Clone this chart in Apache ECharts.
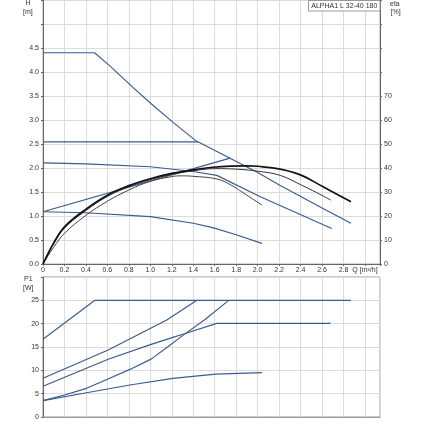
<!DOCTYPE html>
<html><head><meta charset="utf-8">
<script src="https://cdn.jsdelivr.net/npm/echarts@6/dist/echarts.min.js"></script>
<style>html,body{margin:0;padding:0;background:#fff}#c{width:423px;height:423px}</style>
</head><body><div id="c"></div>
<script>
// ---- tick labels ----
const qTickLabels = ['0','0.2','0.4','0.6','0.8','1.0','1.2','1.4','1.6','1.8','2.0','2.2','2.4','2.6','2.8','Q [m\u00b3/h]'];
const hTickLabels = ['0.0','0.5','1.0','1.5','2.0','2.5','3.0','3.5','4.0','4.5'];
const etaTickLabels = ['0','10','20','30','40','50','60','70'];
const pTickLabels = ['0','5','10','15','20','25'];

// ---- head curves H [m] ----
const hMaxQ = [0, 0.48, 0.62, 0.84, 1.0, 1.215, 1.42, 1.575, 2.0, 2.21, 2.41, 2.6, 2.87];
const hMaxH = [4.41, 4.41, 4.14, 3.68, 3.36, 2.95, 2.58, 2.40, 1.91, 1.64, 1.40, 1.17, 0.85];
const hCpQ = [0, 1.445];
const hCpH = [2.55, 2.55];
const hMidQ = [0, 0.4, 1.0, 1.4, 1.62, 2.02, 2.69];
const hMidH = [2.11, 2.09, 2.03, 1.93, 1.85, 1.41, 0.74];
const hPpQ = [0, 1.743];
const hPpH = [1.09, 2.21];
const hLowQ = [0, 0.4, 1.0, 1.4, 1.58, 1.8, 2.04];
const hLowH = [1.09, 1.07, 0.99, 0.85, 0.76, 0.61, 0.43];

// ---- efficiency curves eta [%] ----
const eta1Q = [0, 0.1, 0.2, 0.4, 0.6, 0.8, 1.0, 1.2, 1.4, 1.58, 1.9, 2.0, 2.21, 2.41, 2.61, 2.87];
const eta1V = [0, 8.8, 15.5, 22.9, 28.75, 32.7, 35.6, 37.8, 39.3, 40.4, 41.0, 40.8, 39.6, 37.0, 32.2, 26.0];
const eta2Q = [0, 0.1, 0.2, 0.4, 0.6, 0.8, 1.0, 1.2, 1.4, 1.6, 1.8, 2.0, 2.21, 2.41, 2.55, 2.68];
const eta2V = [0, 8.5, 15.0, 22.3, 28.2, 32.2, 35.2, 37.4, 38.9, 39.8, 39.6, 38.75, 37.0, 32.9, 29.8, 26.7];
const eta3Q = [0, 0.1, 0.2, 0.4, 0.6, 0.8, 1.0, 1.2, 1.3, 1.4, 1.62, 1.75, 1.89, 2.04];
const eta3V = [0, 7.0, 12.8, 20.3, 26.2, 30.9, 34.5, 36.5, 36.8, 36.6, 35.5, 33.0, 29.0, 24.6];

// ---- power curves P1 [W] ----
const pMaxQ = [0, 0.483, 2.87];
const pMaxP = [16.65, 25, 25];
const pCpQ = [0, 0.607, 1.153, 1.434];
const pCpP = [8.3, 14.36, 20.8, 25];
const pMidQ = [0, 0.607, 1.0, 1.21, 1.31, 1.62, 2.68];
const pMidP = [6.6, 12.36, 15.5, 17.07, 17.8, 20.07, 20.07];
const pPpQ = [0, 0.2, 0.405, 0.6, 0.81, 1.007, 1.16, 1.31, 1.51, 1.73];
const pPpP = [3.5, 4.7, 6.14, 8.1, 10.2, 12.4, 15.0, 17.6, 20.9, 25];
const pLowQ = [0, 0.405, 0.81, 1.21, 1.61, 2.04];
const pLowP = [3.5, 5.2, 6.86, 8.29, 9.2, 9.5];

const zip = (a, b) => a.map((x, i) => [x, b[i]]);
const BLUE = '#3a5b8e';
const TXT = '#333';
const FONT = 'Liberation Sans';
const GRIDC = '#dcdcdc';
const AXC = '#666';
const FS = 7;

function blue(name, q, v, xi, yi) {
  return { name, type: 'line', xAxisIndex: xi, yAxisIndex: yi, data: zip(q, v), symbol: 'none',
    lineStyle: { color: BLUE, width: 1.15 }, silent: true, animation: false, z: 3 };
}
function eta(name, q, v, w, c) {
  return { name, type: 'line', xAxisIndex: 0, yAxisIndex: 1, data: zip(q, v), symbol: 'none',
    smooth: 0.4, lineStyle: { color: c, width: w }, silent: true, animation: false, z: 4 };
}

const chart = echarts.init(document.getElementById('c'), null, { renderer: 'canvas' });
const lbl = (arr, step) => (v) => { const i = Math.round(v / step); return (Math.abs(v - i * step) < 1e-6 && arr[i] !== undefined) ? arr[i] : ''; };

chart.setOption({
  animation: false,
  backgroundColor: '#fff',
  textStyle: { fontFamily: FONT },
  grid: [
    { left: 43, top: 0.5, width: 337, height: 263.5, show: true, borderColor: '#aaa', borderWidth: 1 },
    { left: 43, top: 277, width: 337, height: 140, show: true, borderColor: '#999', borderWidth: 1 }
  ],
  xAxis: [
    { gridIndex: 0, type: 'value', min: 0, max: 3.14, interval: 0.2,
      axisLine: { show: true, lineStyle: { color: AXC } }, axisTick: { show: true, length: 2, lineStyle: { color: AXC } },
      axisLabel: { fontSize: FS, color: TXT, margin: 3, fontFamily: FONT, formatter: lbl(qTickLabels, 0.2) },
      splitLine: { show: true, lineStyle: { color: GRIDC, width: 1 } } },
    { gridIndex: 1, type: 'value', min: 0, max: 3.14, interval: 0.2,
      axisLine: { show: true, lineStyle: { color: '#999' } }, axisTick: { show: false }, axisLabel: { show: false },
      splitLine: { show: true, lineStyle: { color: GRIDC, width: 1 } } }
  ],
  yAxis: [
    { gridIndex: 0, type: 'value', min: 0, max: 5.5, interval: 0.5, position: 'left',
      axisLine: { show: true, lineStyle: { color: AXC } }, axisTick: { show: true, length: 2, lineStyle: { color: AXC } },
      axisLabel: { fontSize: FS, color: TXT, margin: 4, fontFamily: FONT, formatter: lbl(hTickLabels, 0.5) },
      splitLine: { show: true, lineStyle: { color: GRIDC, width: 1 } } },
    { gridIndex: 0, type: 'value', min: 0, max: 110, interval: 10, position: 'right',
      axisLine: { show: true, lineStyle: { color: AXC } }, axisTick: { show: true, length: 2, lineStyle: { color: AXC } },
      axisLabel: { fontSize: FS, color: TXT, margin: 4, fontFamily: FONT, formatter: lbl(etaTickLabels, 10) },
      splitLine: { show: false } },
    { gridIndex: 1, type: 'value', min: 0, max: 30, interval: 5, position: 'left',
      axisLine: { show: true, lineStyle: { color: AXC } }, axisTick: { show: true, length: 2, lineStyle: { color: AXC } },
      axisLabel: { fontSize: FS, color: TXT, margin: 4, fontFamily: FONT, formatter: lbl(pTickLabels, 5) },
      splitLine: { show: true, lineStyle: { color: GRIDC, width: 1 } } }
  ],
  graphic: [
    { type: 'text', left: 25.5, top: 0, style: { text: 'H', fontSize: FS, fill: TXT, fontFamily: FONT } },
    { type: 'text', left: 23, top: 9, style: { text: '[m]', fontSize: FS, fill: TXT, fontFamily: FONT } },
    { type: 'text', left: 24, top: 276, style: { text: 'P1', fontSize: FS, fill: TXT, fontFamily: FONT } },
    { type: 'text', left: 23, top: 285, style: { text: '[W]', fontSize: FS, fill: TXT, fontFamily: FONT } },
    { type: 'text', left: 390, top: 1, style: { text: 'eta', fontSize: FS, fill: TXT, fontFamily: FONT } },
    { type: 'text', left: 390.5, top: 9, style: { text: '[%]', fontSize: FS, fill: TXT, fontFamily: FONT } },
    { type: 'rect', shape: { x: 308.5, y: 0.5, width: 71.5, height: 10.5 }, style: { fill: '#fff', stroke: '#999', lineWidth: 1 }, z: 10 },
    { type: 'text', x: 344.3, y: 6, style: { text: 'ALPHA1 L 32-40 180', fontSize: 7, fill: TXT, fontFamily: FONT, textAlign: 'center', textVerticalAlign: 'middle' }, z: 11 }
  ],
  series: [
    blue('H max', hMaxQ, hMaxH, 0, 0),
    blue('H cp', hCpQ, hCpH, 0, 0),
    blue('H mid', hMidQ, hMidH, 0, 0),
    blue('H pp', hPpQ, hPpH, 0, 0),
    blue('H low', hLowQ, hLowH, 0, 0),
    eta('eta 3', eta3Q, eta3V, 1, '#444'),
    eta('eta 2', eta2Q, eta2V, 1, '#333'),
    eta('eta 1', eta1Q, eta1V, 1.7, '#111'),
    blue('P max', pMaxQ, pMaxP, 1, 2),
    blue('P cp', pCpQ, pCpP, 1, 2),
    blue('P mid', pMidQ, pMidP, 1, 2),
    blue('P pp', pPpQ, pPpP, 1, 2),
    blue('P low', pLowQ, pLowP, 1, 2)
  ]
});
</script></body></html>
